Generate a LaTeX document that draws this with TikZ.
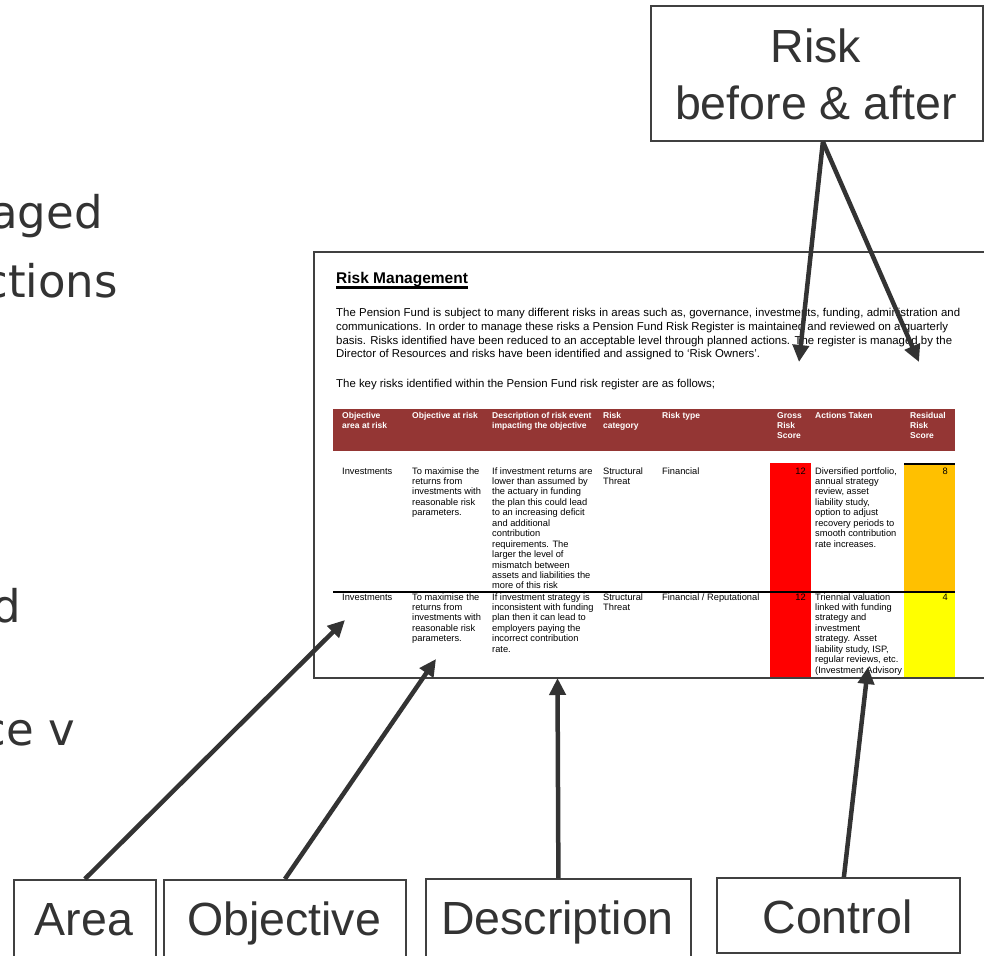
\documentclass[tikz,border=0pt]{standalone}
\usepackage{fontspec}
\setmainfont{Liberation Sans}
\newfontfamily\slidefont{DejaVu Sans}
\usetikzlibrary{arrows.meta,calc}

\definecolor{ink}{HTML}{333333}
\definecolor{edge}{HTML}{404040}
\definecolor{hdrred}{HTML}{943634}
\definecolor{grossred}{HTML}{FF0000}
\definecolor{amber}{HTML}{FFC000}
\definecolor{lowyellow}{HTML}{FFFF00}

\newcommand{\labelfont}{\fontsize{46.5}{56}\selectfont}
\newcommand{\bodyfont}{\fontsize{9.3}{10.45}\selectfont}
\newcommand{\headfont}{\fontsize{8.5}{10}\selectfont\bfseries}
\newcommand{\parafont}{\fontsize{11.4}{13.8}\selectfont}
% one table cell: lines broken by hand, first baseline on the anchor
\newcommand{\tabcell}[2]{\parbox[t]{150pt}{#1\raggedright #2}}

\begin{document}
\begin{tikzpicture}[x=1pt,y=-1pt,
  lbl/.style={draw=edge,line width=1.8pt,inner sep=0pt},
  lbltext/.style={anchor=base,inner sep=0pt,text=ink,font=\labelfont},
  ptr/.style={draw=ink,line width=4.5pt,-{Triangle[length=17pt,width=16pt]}},
  slide/.style={anchor=base east,inner sep=0pt,text=ink,font=\slidefont\fontsize{45}{54}\selectfont},
  cell/.style={anchor=base west,inner sep=0pt},
  num/.style={anchor=base east,inner sep=0pt,font=\bodyfont},
]
\useasboundingbox (0,0) rectangle (984,955);
\fill[white] (0,0) rectangle (984,955);

% slide bullet text running in from the left
\node[slide] (s1) at (103,228) {aged};
\node[slide] (s2) at (118,297) {ctions};
\node[slide] (s3) at (21,622) {d};
\node[slide] (s4) at (75,745) {ce v};

% page extract: risk register
\begin{scope}
\clip (314,252) rectangle (984,678);
\node[cell,font=\bfseries\fontsize{15.5}{18}\selectfont] (title) at (336,283) {Risk Management};
\draw[line width=2.5pt] ([yshift=-4.5pt]title.base west) -- ([yshift=-4.5pt]title.base east);
\node[cell] (intro) at (336,316.5) {\parbox[t]{640pt}{\parafont
 \makebox[624pt][s]{The Pension Fund is subject to many different risks in areas such as, governance, investments, funding, administration and}\\
 \makebox[612pt][s]{communications. In order to manage these risks a Pension Fund Risk Register is maintained and reviewed on a quarterly}\\
 \makebox[616pt][s]{basis. Risks identified have been reduced to an acceptable level through planned actions. The register is managed by the}\\
 Director of Resources and risks have been identified and assigned to ‘Risk Owners’.}};
\node[cell,font=\parafont] (keyrisks) at (336,387.5) {The key risks identified within the Pension Fund risk register are as follows;};

% table header band and score cells
\fill[hdrred] (333,409) rectangle (955,451);
\fill[grossred] (770,463) rectangle (811,690);
\fill[amber] (904,463) rectangle (955,592);
\fill[lowyellow] (904,592) rectangle (955,690);
\draw[line width=2pt] (904,464) -- (955,464);
\draw[line width=2.5pt] (333,592) -- (955,592);

% header row
\node[cell,text=white] (h1) at (342,418.5) {\tabcell{\headfont}{Objective\\area at risk}};
\node[cell,text=white] (h2) at (412,418.5) {\tabcell{\headfont}{Objective at risk}};
\node[cell,text=white] (h3) at (492,418.5) {\tabcell{\headfont}{Description of risk event\\impacting the objective}};
\node[cell,text=white] (h4) at (603,418.5) {\tabcell{\headfont}{Risk\\category}};
\node[cell,text=white] (h5) at (662,418.5) {\tabcell{\headfont}{Risk type}};
\node[cell,text=white] (h6) at (777,418.5) {\tabcell{\headfont}{Gross\\Risk\\Score}};
\node[cell,text=white] (h7) at (815,418.5) {\tabcell{\headfont}{Actions Taken}};
\node[cell,text=white] (h8) at (910,418.5) {\tabcell{\headfont}{Residual\\Risk\\Score}};

% first risk
\node[cell] (a1) at (342,474) {\tabcell{\bodyfont}{Investments}};
\node[cell] (b1) at (412,474) {\tabcell{\bodyfont}{To maximise the\\returns from\\investments with\\reasonable risk\\parameters.}};
\node[cell] (c1) at (492,474) {\tabcell{\bodyfont}{If investment returns are\\lower than assumed by\\the actuary in funding\\the plan this could lead\\to an increasing deficit\\and additional\\contribution\\requirements. The\\larger the level of\\mismatch between\\assets and liabilities the\\more of this risk}};
\node[cell] (d1) at (603,474) {\tabcell{\bodyfont}{Structural\\Threat}};
\node[cell] (e1) at (662,474) {\tabcell{\bodyfont}{Financial}};
\node[num] (f1) at (806,474) {12};
\node[cell] (g1) at (815,474) {\tabcell{\bodyfont}{Diversified portfolio,\\annual strategy\\review, asset\\liability study,\\option to adjust\\recovery periods to\\smooth contribution\\rate increases.}};
\node[num] (k1) at (948,474) {8};

% second risk
\node[cell] (a2) at (342,600) {\tabcell{\bodyfont}{Investments}};
\node[cell] (b2) at (412,600) {\tabcell{\bodyfont}{To maximise the\\returns from\\investments with\\reasonable risk\\parameters.}};
\node[cell] (c2) at (492,600) {\tabcell{\bodyfont}{If investment strategy is\\inconsistent with funding\\plan then it can lead to\\employers paying the\\incorrect contribution\\rate.}};
\node[cell] (d2) at (603,600) {\tabcell{\bodyfont}{Structural\\Threat}};
\node[cell] (e2) at (662,600) {\tabcell{\bodyfont}{Financial / Reputational}};
\node[num] (f2) at (806,600) {12};
\node[cell] (g2) at (815,600) {\tabcell{\bodyfont}{Triennial valuation\\linked with funding\\strategy and\\investment\\strategy. Asset\\liability study, ISP,\\regular reviews, etc.\\(Investment Advisory}};
\node[num] (k2) at (948,600) {4};
\end{scope}
\draw[draw=edge,line width=2pt] (314,252) rectangle (1000,678);

% callout boxes
\node[lbl,anchor=north west,minimum width=332pt,minimum height=135pt] (risk) at (650,5) {};
\node[lbltext] (riskA) at (816,63) {Risk};
\node[lbltext] (riskB) at (816,119) {before \& after};

\node[lbl,anchor=north west,minimum width=142pt,minimum height=120pt] (area) at (13,879) {};
\node[lbltext] (areaT) at (84,935) {Area};
\node[lbl,anchor=north west,minimum width=242pt,minimum height=120pt] (obj) at (163,879) {};
\node[lbltext] (objT) at (284,935) {Objective};
\node[lbl,anchor=north west,minimum width=265pt,minimum height=120pt] (desc) at (425,878) {};
\node[lbltext] (descT) at (557.5,934) {Description};
\node[lbl,anchor=north west,minimum width=243pt,minimum height=75pt] (ctrl) at (716,877) {};
\node[lbltext] (ctrlT) at (837.5,933) {Control};

% arrow targets on the page
\coordinate (tipGross) at (799,362);
\coordinate (tipResid) at (919,362);
\coordinate (tipArea) at (345,620);
\coordinate (tipObj) at (436,659);
\coordinate (tipDesc) at (557.5,678);
\coordinate (tipCtrl) at (868,667);

\draw[ptr] ([xshift=6pt]risk.south) -- (tipGross);
\draw[ptr] ([xshift=6pt]risk.south) -- (tipResid);
\draw[ptr] (area.north) -- (tipArea);
\draw[ptr] (obj.north) -- (tipObj);
\draw[ptr] (desc.north) -- (tipDesc);
\draw[ptr] ([xshift=5.5pt]ctrl.north) -- (tipCtrl);
\end{tikzpicture}
\end{document}
